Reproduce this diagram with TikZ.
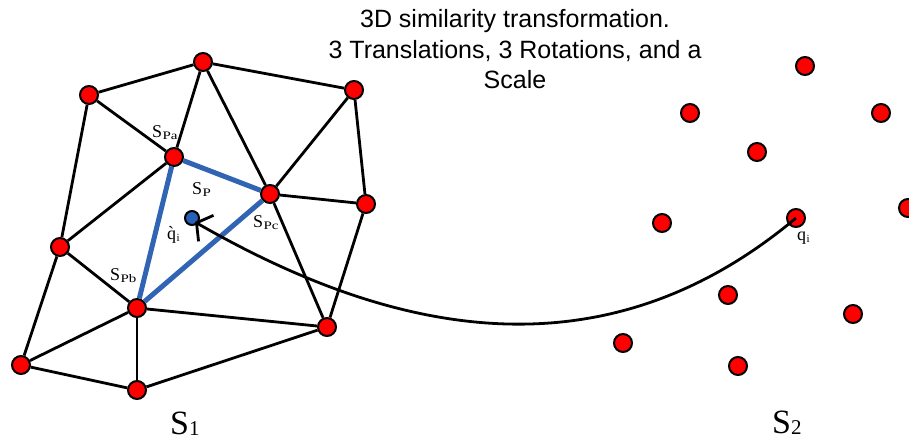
\documentclass[tikz,border=0pt]{standalone}
\usepackage{fontspec}
\setmainfont{Liberation Serif}
\newfontfamily\titlefont{Liberation Sans}
\usetikzlibrary{arrows.meta}
\definecolor{meshblue}{RGB}{50,100,180}
\definecolor{dotblue}{RGB}{40,95,185}
\newcommand{\sublab}[2]{#1\kern0.4pt\raisebox{-0.3ex}{\scalebox{1.3}[1]{\fontsize{11.5}{12}\selectfont #2}}}
\newcommand{\subsmall}[2]{#1\kern0.3pt\raisebox{-0.35ex}{\fontsize{11}{12}\selectfont #2}}
\begin{document}
\begin{tikzpicture}[x=1pt,y=-1pt,
  rpt/.style={circle,draw=black,line width=2pt,fill=red,minimum size=18pt,inner sep=0pt},
  bpt/.style={circle,draw=black,line width=2pt,fill=dotblue,minimum size=14pt,inner sep=0pt},
  edge/.style={line width=2.8pt,black},
  bedge/.style={line width=5pt,meshblue},
  curvearrow/.style={line width=2.8pt,black,-{Straight Barb[length=11pt,width=30pt]}},
  lab/.style={inner sep=0pt,anchor=base west,font=\fontsize{18}{19}\selectfont},
  big/.style={inner sep=0pt,anchor=base west,font=\fontsize{34}{36}\selectfont},
  ttl/.style={inner sep=0pt,anchor=base,font=\titlefont\fontsize{25}{30}\selectfont}]
\useasboundingbox (0,0) rectangle (909,441);
% left mesh points
\node[rpt] (A) at (203,62) {};
\node[rpt] (B) at (89,95) {};
\node[rpt] (C) at (354,90) {};
\node[rpt] (Pa) at (174,157) {};
\node[rpt] (Pc) at (270,194) {};
\node[rpt] (D) at (366,204) {};
\node[rpt] (E) at (60,247) {};
\node[rpt] (Pb) at (137,308) {};
\node[rpt] (F) at (327,327) {};
\node[rpt] (G) at (21,365) {};
\node[rpt] (H) at (137,390) {};
\node[bpt] (qp) at (192,218) {};
% mesh edges
\draw[edge] (A) -- (B);
\draw[edge] (A) -- (C);
\draw[edge] (B) -- (Pa);
\draw[edge] (B) -- (E);
\draw[edge] (A) -- (Pa);
\draw[edge] (A) -- (Pc);
\draw[edge] (C) -- (Pc);
\draw[edge] (C) -- (D);
\draw[edge] (Pc) -- (D);
\draw[edge] (Pa) -- (E);
\draw[edge] (E) -- (Pb);
\draw[edge] (E) -- (G);
\draw[edge] (Pb) -- (G);
\draw[edge] (Pb) -- (H);
\draw[edge] (Pb) -- (F);
\draw[edge] (Pc) -- (F);
\draw[edge] (D) -- (F);
\draw[edge] (G) -- (H);
\draw[edge] (H) -- (F);
\draw[bedge] (Pa) -- (Pc);
\draw[bedge] (Pa) -- (Pb);
\draw[bedge] (Pb) -- (Pc);
% right points
\node[rpt] (r1) at (805,66) {};
\node[rpt] (r2) at (690,113) {};
\node[rpt] (r3) at (881,113) {};
\node[rpt] (r4) at (757,152) {};
\node[rpt] (r5) at (662,223) {};
\node[rpt] (qi) at (796,218) {};
\node[rpt] (r7) at (908,208) {};
\node[rpt] (r8) at (728,295) {};
\node[rpt] (r9) at (853,314) {};
\node[rpt] (r10) at (623,343) {};
\node[rpt] (r11) at (738,366) {};
% correspondence curve
\coordinate (tip) at (195,222);
\draw[curvearrow] (qi.center) .. controls (604,379) and (395,337) .. (tip);
% labels
\node[lab] (lPa) at (152,137) {\sublab{S}{Pa}};
\node[lab] (lP) at (192,194) {\sublab{S}{P}};
\node[lab] (lPc) at (253,227) {\sublab{S}{Pc}};
\node[lab] (lPb) at (110,280) {\sublab{S}{Pb}};
\node[lab] (lqp) at (167,239) {\subsmall{\`{q}}{i}};
\node[lab] (lqi) at (797,240) {\subsmall{q}{i}};
\node[big] (S1) at (170,434) {S\raisebox{-0.1ex}{\fontsize{21}{22}\selectfont 1}};
\node[big] (S2) at (772,433) {S\raisebox{-0.1ex}{\fontsize{21}{22}\selectfont 2}};
% title
\node[ttl] (t1) at (515,28) {3D similarity transformation.};
\node[ttl] (t2) at (515,59) {3 Translations, 3 Rotations, and a};
\node[ttl] (t3) at (515,89) {Scale};
\end{tikzpicture}
\end{document}
